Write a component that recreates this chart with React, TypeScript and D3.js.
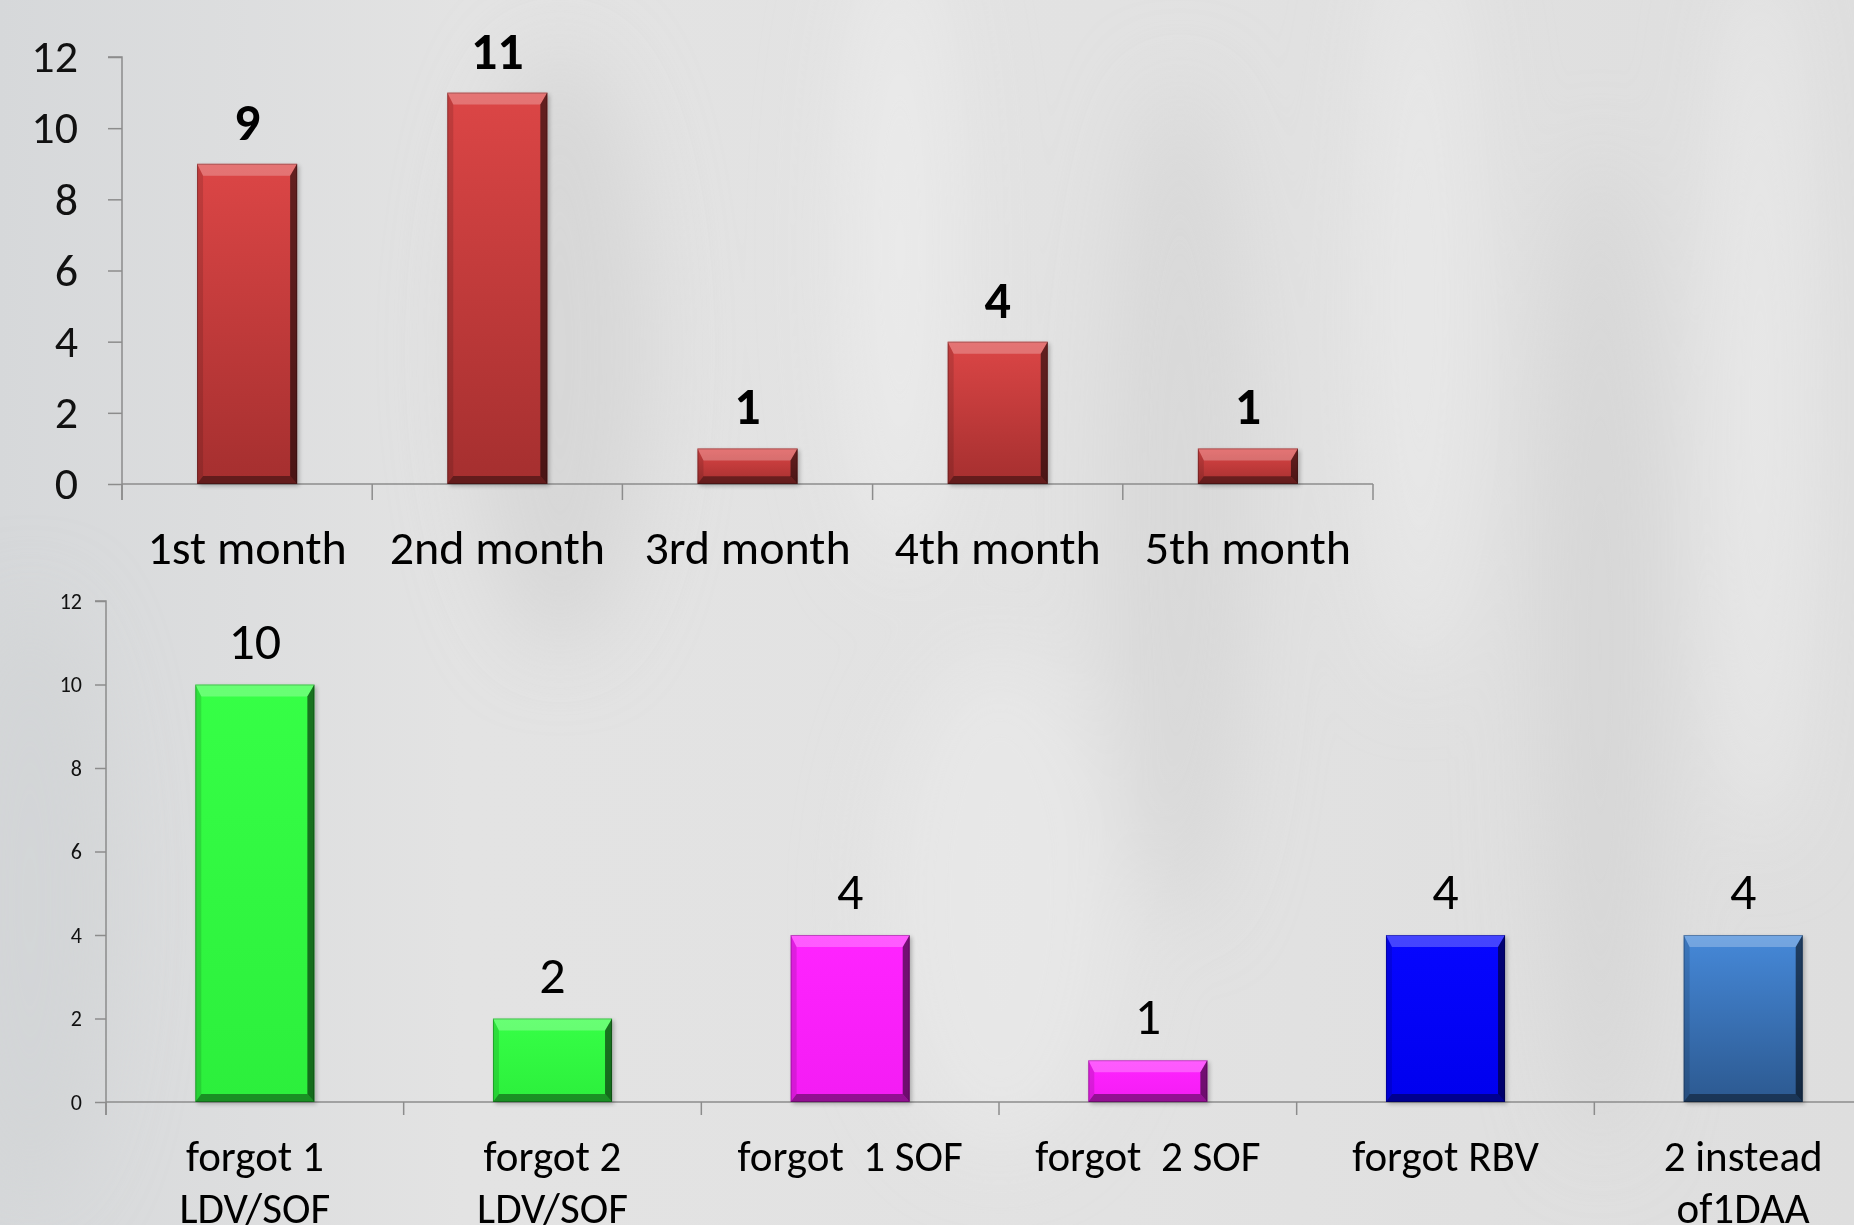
import React, { useEffect, useRef } from 'react';
import * as d3 from 'd3';

// top chart: adherence problems by month
const monthCats = ['1st month', '2nd month', '3rd month', '4th month', '5th month'];
const monthValues = [9, 11, 1, 4, 1];

// bottom chart: type of mistake
const mistakeCats = [
  ['forgot 1', 'LDV/SOF'],
  ['forgot 2', 'LDV/SOF'],
  ['forgot  1 SOF'],
  ['forgot  2 SOF'],
  ['forgot RBV'],
  ['2 instead', 'of1DAA'],
];
const mistakeValues = [10, 2, 4, 1, 4, 4];
const mistakeColors = ['green', 'green', 'magenta', 'magenta', 'blue', 'steel'];

const yTicks = [0, 2, 4, 6, 8, 10, 12];

const W = 1854;
const H = 1225;
const FONT = 'Carlito, Calibri, Lato, sans-serif';

// gradient stops for each bar colour (top -> bottom)
const palette: Record<string, [string, string]> = {
  red: ['#dc4646', '#a52f2f'],
  green: ['#36ff46', '#2cef3c'],
  magenta: ['#ff24ff', '#f41cf4'],
  blue: ['#0606ff', '#0000ee'],
  steel: ['#4689d9', '#2c5990'],
};

type Panel = {
  cats: string[][];
  values: number[];
  colors: string[];
  x0: number;
  x1: number;
  y0: number;
  y12: number;
  tickLen: number;
  tickPad: number;
  tickFont: number;
  xTickLen: number;
  catFont: number;
  catBase: number;
  catLine: number;
  valFont: number;
  valBold: boolean;
  valGap: number;
};

const App: React.FC = () => {
  const svgRef = useRef<SVGSVGElement>(null);

  useEffect(() => {
    if (!svgRef.current) return;
    const svg = d3.select(svgRef.current);
    svg.selectAll('*').remove();

    const defs = svg.append('defs');

    // background
    const bg = defs.append('linearGradient').attr('id', 'bg').attr('x1', 0).attr('x2', 1).attr('y1', 0).attr('y2', 0);
    bg.append('stop').attr('offset', 0).attr('stop-color', '#d6d8da');
    bg.append('stop').attr('offset', 0.25).attr('stop-color', '#e3e3e3');
    bg.append('stop').attr('offset', 0.6).attr('stop-color', '#e2e2e2');
    bg.append('stop').attr('offset', 1).attr('stop-color', '#dedede');

    defs.append('filter').attr('id', 'blur').attr('x', '-50%').attr('y', '-50%').attr('width', '200%').attr('height', '200%')
      .append('feGaussianBlur').attr('stdDeviation', 40);
    defs.append('filter').attr('id', 'shadow').attr('x', '-20%').attr('y', '-20%').attr('width', '140%').attr('height', '140%')
      .append('feGaussianBlur').attr('stdDeviation', 2);

    Object.entries(palette).forEach(([k, [a, b]]) => {
      const g = defs.append('linearGradient').attr('id', `bar-${k}`).attr('x1', 0).attr('x2', 0).attr('y1', 0).attr('y2', 1);
      g.append('stop').attr('offset', 0).attr('stop-color', a);
      g.append('stop').attr('offset', 1).attr('stop-color', b);
    });

    svg.append('rect').attr('width', W).attr('height', H).attr('fill', 'url(#bg)');

    // soft streaks in the backdrop
    const streaks = [
      { cx: 560, cy: 350, rx: 90, ry: 300, c: '#d4d4d4' },
      { cx: 900, cy: 250, rx: 60, ry: 320, c: '#ececec' },
      { cx: 1180, cy: 500, rx: 70, ry: 420, c: '#d6d6d6' },
      { cx: 1420, cy: 300, rx: 60, ry: 380, c: '#eaeaea' },
      { cx: 1600, cy: 650, rx: 60, ry: 500, c: '#d5d5d5' },
      { cx: 1760, cy: 400, rx: 50, ry: 450, c: '#ebebeb' },
      { cx: 30, cy: 900, rx: 80, ry: 300, c: '#d2d4d6' },
      { cx: 1000, cy: 900, rx: 120, ry: 250, c: '#e8e8e8' },
    ];
    svg.append('g').attr('filter', 'url(#blur)')
      .selectAll('ellipse').data(streaks).enter().append('ellipse')
      .attr('cx', d => d.cx).attr('cy', d => d.cy).attr('rx', d => d.rx).attr('ry', d => d.ry)
      .attr('fill', d => d.c).attr('opacity', 0.8);

    const drawPanel = (p: Panel) => {
      const g = svg.append('g');
      const keys = p.cats.map((_, i) => String(i));
      const x = d3.scaleBand<string>().domain(keys).range([p.x0, p.x1]).paddingInner(0.6).paddingOuter(0.3);
      const y = d3.scaleLinear().domain([0, 12]).range([p.y0, p.y12]);
      const step = x.step();

      // y axis
      const yAxis = d3.axisLeft(y).tickValues(yTicks).tickSize(p.tickLen).tickPadding(p.tickPad).tickFormat(d3.format('d'));
      const ya = g.append('g').attr('transform', `translate(${p.x0},0)`).call(yAxis);
      ya.select('.domain').attr('stroke', '#8c8c8c').attr('stroke-width', 1.5).attr('d', `M${-p.tickLen},${p.y12}H0V${p.y0 + p.xTickLen}`);
      ya.selectAll('.tick line').attr('stroke', '#8c8c8c').attr('stroke-width', 1.5);
      ya.selectAll('.tick text').attr('fill', '#111').style('font-family', FONT).style('font-size', `${p.tickFont}px`);

      // x axis
      g.append('line').attr('x1', p.x0).attr('x2', p.x1).attr('y1', p.y0).attr('y2', p.y0)
        .attr('stroke', '#8c8c8c').attr('stroke-width', 1.5);
      g.selectAll('.xtick').data(d3.range(p.cats.length + 1)).enter().append('line')
        .attr('x1', i => p.x0 + i * step).attr('x2', i => p.x0 + i * step)
        .attr('y1', p.y0).attr('y2', p.y0 + p.xTickLen)
        .attr('stroke', '#8c8c8c').attr('stroke-width', 1.5);

      // bars with bevelled edges
      p.values.forEach((v, i) => {
        const bx = x(String(i)) as number;
        const bw = x.bandwidth();
        const by = y(v);
        const bh = p.y0 - by;
        const t = Math.min(12, bh * 0.35);
        const bb = Math.min(8, bh * 0.22);
        const l = 6;
        const r = 7;
        const bar = g.append('g');
        bar.append('rect').attr('x', bx + 2).attr('y', by + 2).attr('width', bw).attr('height', bh)
          .attr('fill', '#000').attr('opacity', 0.25).attr('filter', 'url(#shadow)');
        bar.append('rect').attr('x', bx).attr('y', by).attr('width', bw).attr('height', bh)
          .attr('fill', `url(#bar-${p.colors[i]})`);
        const faces: [number[][], string, number][] = [
          [[[bx, by], [bx + bw, by], [bx + bw - r, by + t], [bx + l, by + t]], '#fff', 0.25],
          [[[bx, by], [bx + l, by + t], [bx + l, by + bh - bb], [bx, by + bh]], '#000', 0.12],
          [[[bx + bw, by], [bx + bw - r, by + t], [bx + bw - r, by + bh - bb], [bx + bw, by + bh]], '#000', 0.55],
          [[[bx, by + bh], [bx + bw, by + bh], [bx + bw - r, by + bh - bb], [bx + l, by + bh - bb]], '#000', 0.4],
        ];
        faces.forEach(([pts, c, o]) => {
          bar.append('polygon').attr('points', pts.map(q => q.join(',')).join(' ')).attr('fill', c).attr('opacity', o);
        });
        bar.append('rect').attr('x', bx + 0.5).attr('y', by + 0.5).attr('width', bw - 1).attr('height', bh - 1)
          .attr('fill', 'none').attr('stroke', '#000').attr('stroke-opacity', 0.25).attr('stroke-width', 1);

        g.append('text')
          .attr('x', bx + bw / 2).attr('y', by - p.valGap)
          .attr('text-anchor', 'middle')
          .style('font-family', FONT).style('font-size', `${p.valFont}px`)
          .style('font-weight', p.valBold ? 700 : 400)
          .attr('fill', '#000')
          .text(v);
      });

      // category labels
      p.cats.forEach((lines, i) => {
        const cx = (x(String(i)) as number) + x.bandwidth() / 2;
        const txt = g.append('text')
          .attr('x', cx).attr('y', p.catBase)
          .attr('text-anchor', 'middle')
          .style('font-family', FONT).style('font-size', `${p.catFont}px`)
          .style('white-space', 'pre')
          .attr('fill', '#000');
        lines.forEach((ln, j) => {
          txt.append('tspan').attr('x', cx).attr('dy', j === 0 ? 0 : p.catLine).text(ln);
        });
      });
    };

    drawPanel({
      cats: monthCats.map(c => [c]),
      values: monthValues,
      colors: monthValues.map(() => 'red'),
      x0: 122, x1: 1373, y0: 484, y12: 57,
      tickLen: 14, tickPad: 30, tickFont: 46, xTickLen: 16,
      catFont: 48, catBase: 564, catLine: 0,
      valFont: 52, valBold: true, valGap: 24,
    });

    drawPanel({
      cats: mistakeCats,
      values: mistakeValues,
      colors: mistakeColors,
      x0: 106, x1: 1892, y0: 1102, y12: 601,
      tickLen: 11, tickPad: 13, tickFont: 22, xTickLen: 13,
      catFont: 43, catBase: 1171, catLine: 52,
      valFont: 52, valBold: false, valGap: 26,
    });
  }, []);

  return (
    <div style={{ position: 'absolute', left: 0, top: 0, width: W, height: H, overflow: 'hidden' }}>
      <svg ref={svgRef} width={W} height={H} style={{ display: 'block' }} />
    </div>
  );
};

export default App;
